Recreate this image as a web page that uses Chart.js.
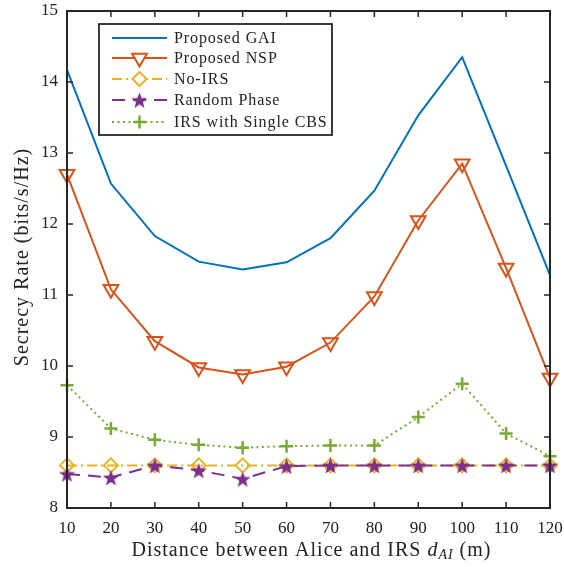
<!DOCTYPE html>
<html>
<head>
<meta charset="utf-8">
<script src="https://cdn.jsdelivr.net/npm/chart.js@4"></script>
<style>
  html, body { margin: 0; padding: 0; background: #fff; }
  #wrap { width: 564px; height: 567px; }
</style>
</head>
<body>
<div id="wrap"><canvas id="chart" width="564" height="567"></canvas></div>
<script>
const distances = [10, 20, 30, 40, 50, 60, 70, 80, 90, 100, 110, 120];
const gaiRate = [14.17, 12.57, 11.83, 11.47, 11.36, 11.46, 11.80, 12.47, 13.53, 14.35, 12.82, 11.28];
const nspRate = [12.70, 11.08, 10.35, 9.98, 9.88, 9.99, 10.33, 10.98, 12.05, 12.85, 11.38, 9.83];
const noIrsRate = [8.60, 8.60, 8.60, 8.60, 8.60, 8.60, 8.60, 8.60, 8.60, 8.60, 8.60, 8.60];
const randomRate = [8.48, 8.43, 8.60, 8.53, 8.41, 8.59, 8.60, 8.60, 8.60, 8.60, 8.60, 8.60];
const singleCbsRate = [9.73, 9.12, 8.96, 8.89, 8.85, 8.87, 8.88, 8.88, 9.28, 9.75, 9.05, 8.73];
const yTicks = [8, 9, 10, 11, 12, 13, 14, 15];

const FONT = '"Liberation Serif", "DejaVu Serif", serif';
const C_BLUE = '#0072BD', C_ORANGE = '#D95319', C_YELLOW = '#EDB120', C_PURPLE = '#7E2F8E', C_GREEN = '#77AC30';

// filled star marker
function makeStar(r, color) {
    const c = document.createElement('canvas');
    const s = Math.ceil(r * 2 + 2);
    c.width = s; c.height = s;
    const g = c.getContext('2d');
    g.translate(s / 2, s / 2 + 1);
    g.beginPath();
    for (let i = 0; i < 10; i++) {
        const rad = i % 2 === 0 ? r : r * 0.42;
        const a = -Math.PI / 2 + i * Math.PI / 5;
        g.lineTo(rad * Math.cos(a), rad * Math.sin(a));
    }
    g.closePath();
    g.fillStyle = color;
    g.fill();
    return c;
}
const starImg = makeStar(8.5, C_PURPLE);

const series = [
    { label: 'Proposed GAI', data: gaiRate, color: C_BLUE, dash: [], style: false, rot: 0, radius: 0, mw: 2 },
    { label: 'Proposed NSP', data: nspRate, color: C_ORANGE, dash: [], style: 'triangle', rot: 180, radius: 8.5, mw: 2 },
    { label: 'No-IRS', data: noIrsRate, color: C_YELLOW, dash: [10, 4, 2, 4], style: 'rectRot', rot: 0, radius: 7, mw: 2 },
    { label: 'Random Phase', data: randomRate, color: C_PURPLE, dash: [13, 8], style: starImg, rot: 0, radius: 9, mw: 2 },
    { label: 'IRS with Single CBS', data: singleCbsRate, color: C_GREEN, dash: [2, 3.5], style: 'cross', rot: 0, radius: 6.5, mw: 2.5 }
];

function spacedText(ctx, text, x, y, spacing) {
    ctx.letterSpacing = spacing + 'px';
    ctx.fillText(text, x, y);
    ctx.letterSpacing = '0px';
}

// frame with inward ticks, axis titles and the legend box
const framePlugin = {
    id: 'frame',
    afterDatasetsDraw(chart) {
        const { ctx, chartArea: a, scales: { x, y } } = chart;
        ctx.save();
        ctx.strokeStyle = '#262626';
        ctx.lineWidth = 2;
        ctx.strokeRect(a.left, a.top, a.right - a.left, a.bottom - a.top);
        ctx.lineWidth = 1.5;
        const tl = 6;
        distances.forEach(v => {
            const px = x.getPixelForValue(v);
            ctx.beginPath();
            ctx.moveTo(px, a.bottom); ctx.lineTo(px, a.bottom - tl);
            ctx.moveTo(px, a.top); ctx.lineTo(px, a.top + tl);
            ctx.stroke();
        });
        yTicks.forEach(v => {
            const py = y.getPixelForValue(v);
            ctx.beginPath();
            ctx.moveTo(a.left, py); ctx.lineTo(a.left + tl, py);
            ctx.moveTo(a.right, py); ctx.lineTo(a.right - tl, py);
            ctx.stroke();
        });
        ctx.restore();
    },
    afterDraw(chart) {
        const ctx = chart.ctx;
        ctx.save();
        ctx.fillStyle = '#222';
        ctx.textBaseline = 'alphabetic';
        ctx.textAlign = 'left';

        // x title with italic subscript
        const f = '20px ' + FONT, fi = 'italic 20px ' + FONT, fs = 'italic 14px ' + FONT;
        const p1 = 'Distance between Alice and IRS ', p3 = ' (m)';
        ctx.letterSpacing = '1px';
        ctx.font = f;
        const w1 = ctx.measureText(p1).width, w3 = ctx.measureText(p3).width;
        ctx.font = fi; const w2 = ctx.measureText('d').width;
        ctx.font = fs; const ws = ctx.measureText('AI').width;
        ctx.letterSpacing = '0px';
        const cx = (chart.chartArea.left + chart.chartArea.right) / 2 + 3;
        let tx = cx - (w1 + w2 + ws + w3) / 2;
        const ty = 556;
        ctx.font = f; spacedText(ctx, p1, tx, ty, 1); tx += w1;
        ctx.font = fi; spacedText(ctx, 'd', tx, ty, 1); tx += w2;
        ctx.font = fs; spacedText(ctx, 'AI', tx, ty + 3, 1); tx += ws;
        ctx.font = f; spacedText(ctx, p3, tx, ty, 1);

        // y title
        ctx.save();
        ctx.translate(28, 257);
        ctx.rotate(-Math.PI / 2);
        ctx.font = f;
        ctx.textAlign = 'center';
        spacedText(ctx, 'Secrecy Rate (bits/s/Hz)', 0, 0, 1);
        ctx.restore();

        // legend box
        const bx = 99, by = 24, bw = 233, bh = 111;
        ctx.fillStyle = '#fff';
        ctx.fillRect(bx, by, bw, bh);
        ctx.strokeStyle = '#262626';
        ctx.lineWidth = 1.8;
        ctx.strokeRect(bx, by, bw, bh);
        const rows = [38, 58, 79, 100, 122];
        ctx.font = '16px ' + FONT;
        ctx.textBaseline = 'middle';
        ctx.textAlign = 'left';
        series.forEach((s, i) => {
            const yy = rows[i];
            ctx.strokeStyle = s.color;
            ctx.lineWidth = 2;
            ctx.setLineDash(s.dash);
            ctx.beginPath();
            ctx.moveTo(112, yy); ctx.lineTo(167, yy);
            ctx.stroke();
            ctx.setLineDash([]);
            if (s.style) {
                const mx = 139.5;
                if (s.style === starImg) {
                    ctx.drawImage(starImg, mx - starImg.width / 2, yy - starImg.height / 2);
                } else {
                    ctx.fillStyle = '#fff';
                    ctx.lineWidth = s.mw;
                    Chart.helpers.drawPoint(ctx, { pointStyle: s.style, rotation: s.rot, radius: s.radius, borderWidth: s.mw }, mx, yy);
                }
            }
            ctx.fillStyle = '#222';
            spacedText(ctx, s.label, 174, yy + 1, 0.9);
        });
        ctx.restore();
    }
};

new Chart(document.getElementById('chart').getContext('2d'), {
    type: 'line',
    data: {
        datasets: series.map((s, i) => ({
            label: s.label,
            data: distances.map((d, j) => ({ x: d, y: s.data[j] })),
            order: series.length - i,
            clip: false,
            borderColor: s.color,
            backgroundColor: s.color,
            borderWidth: 2,
            borderDash: s.dash,
            pointStyle: s.style,
            pointRotation: s.rot,
            pointRadius: s.radius,
            pointBorderWidth: s.mw,
            pointBorderColor: s.color,
            pointBackgroundColor: 'rgba(255,255,255,0)',
            tension: 0
        }))
    },
    options: {
        responsive: false,
        animation: false,
        layout: { padding: { top: 7, right: 14, left: 0, bottom: 0 } },
        plugins: { legend: { display: false }, tooltip: { enabled: false } },
        scales: {
            x: {
                type: 'linear',
                min: 10, max: 120,
                afterBuildTicks: s => { s.ticks = distances.map(v => ({ value: v })); },
                afterFit: s => { s.height = 59; s.paddingLeft = 0; s.paddingRight = 0; },
                grid: { display: false, drawTicks: false },
                border: { display: false },
                ticks: { color: '#222', font: { family: FONT, size: 17 }, padding: 10, maxRotation: 0 },
                title: { display: false }
            },
            y: {
                min: 8, max: 15,
                afterBuildTicks: s => { s.ticks = yTicks.map(v => ({ value: v })); },
                afterFit: s => { s.width = 67; s.paddingTop = 0; s.paddingBottom = 0; },
                grid: { display: false, drawTicks: false },
                border: { display: false },
                ticks: { color: '#222', font: { family: FONT, size: 17 }, padding: 9 },
                title: { display: false }
            }
        }
    },
    plugins: [framePlugin]
});
</script>
</body>
</html>
